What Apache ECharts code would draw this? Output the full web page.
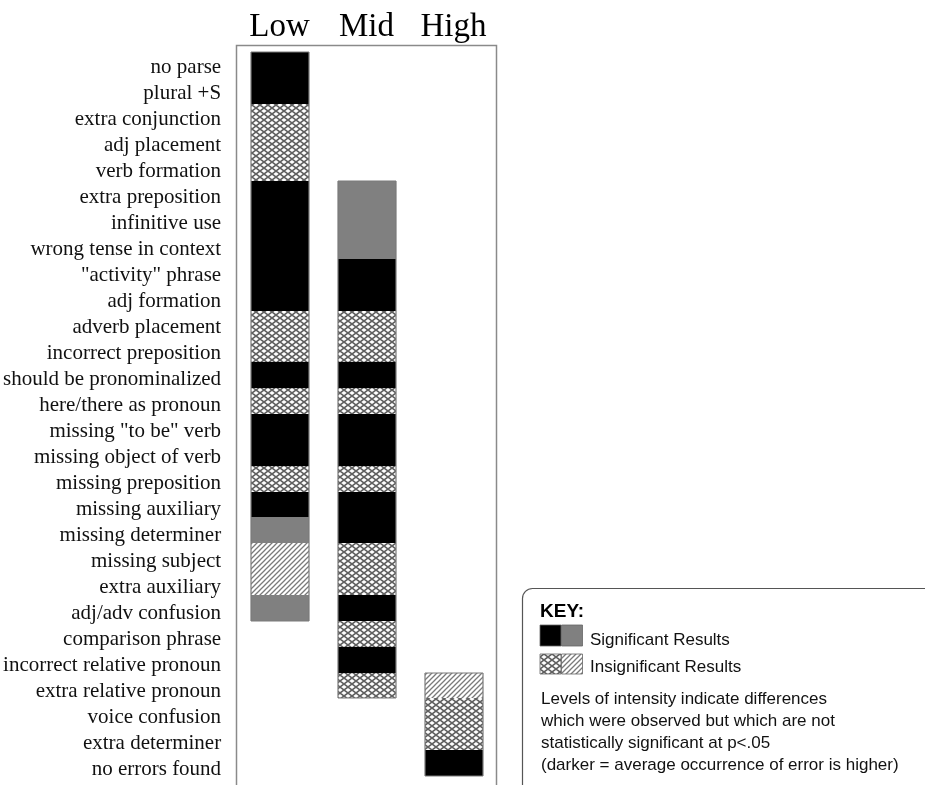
<!DOCTYPE html>
<html><head><meta charset="utf-8">
<script src="https://cdn.jsdelivr.net/npm/echarts@6/dist/echarts.min.js"></script>
<style>html,body{margin:0;padding:0;background:#fff}#c{width:925px;height:785px}</style>
</head><body><div id="c"></div>
<script>
// ---- data ----
const levels = ['Low', 'Mid', 'High'];
const errorTypes = [
  'no parse', 'plural +S', 'extra conjunction', 'adj placement', 'verb formation',
  'extra preposition', 'infinitive use', 'wrong tense in context', '"activity" phrase',
  'adj formation', 'adverb placement', 'incorrect preposition', 'should be pronominalized',
  'here/there as pronoun', 'missing "to be" verb', 'missing object of verb',
  'missing preposition', 'missing auxiliary', 'missing determiner', 'missing subject',
  'extra auxiliary', 'adj/adv confusion', 'comparison phrase', 'incorrect relative pronoun',
  'extra relative pronoun', 'voice confusion', 'extra determiner', 'no errors found'
];
// S = significant (dark), G = significant (lighter), X = insignificant (crosshatch), D = insignificant (diagonal), null = none
const lowCells = ['S','S','X','X','X','S','S','S','S','S','X','X','S','X','S','S','X','S','G','D','D','G',
  null,null,null,null,null,null];
const midCells = [null,null,null,null,null,'G','G','G','S','S','X','X','S','X','S','S','X','S','S','X','X','S','X','S','X',
  null,null,null];
const highCells = [null,null,null,null,null,null,null,null,null,null,null,null,null,null,null,null,null,null,null,null,null,null,null,null,
  'D','X','X','S'];
const cellCodes = ['S', 'G', 'X', 'D'];
const keyTitle = 'KEY:';
const keySig = 'Significant Results';
const keyInsig = 'Insignificant Results';
const keyNote = ['Levels of intensity indicate differences', 'which were observed but which are not',
  'statistically significant at p<.05', '(darker = average occurrence of error is higher)'];

// ---- patterns ----
function crossPattern() {
  const cv = document.createElement('canvas');
  cv.width = 8; cv.height = 6;
  const g = cv.getContext('2d');
  g.fillStyle = '#fff'; g.fillRect(0, 0, 8, 6);
  g.strokeStyle = '#606060'; g.lineWidth = 1.6;
  g.beginPath();
  g.moveTo(-1, -0.75); g.lineTo(9, 6.75);
  g.moveTo(-1, 6.75); g.lineTo(9, -0.75);
  g.stroke();
  return { image: cv, repeat: 'repeat' };
}
function diagPattern() {
  const s = 5;
  const cv = document.createElement('canvas');
  cv.width = s; cv.height = s;
  const g = cv.getContext('2d');
  g.fillStyle = '#fff'; g.fillRect(0, 0, s, s);
  g.strokeStyle = '#7a7a7a'; g.lineWidth = 1.3;
  g.beginPath();
  g.moveTo(-1, s + 1); g.lineTo(s + 1, -1);
  g.moveTo(-1, 1); g.lineTo(1, -1);
  g.moveTo(s - 1, s + 1); g.lineTo(s + 1, s - 1);
  g.stroke();
  return { image: cv, repeat: 'repeat' };
}
const fills = { S: '#000000', G: '#808080', X: crossPattern(), D: diagPattern() };

const cellData = [];
[lowCells, midCells, highCells].forEach((col, ci) => {
  col.forEach((code, ri) => {
    if (code) {
      const top = ri === 0 || !col[ri - 1] ? 1 : 0;
      const bottom = ri === col.length - 1 || !col[ri + 1] ? 1 : 0;
      cellData.push([ci, ri, cellCodes.indexOf(code), top, bottom]);
    }
  });
});

const serif = 'Liberation Serif, Times New Roman, serif';
const sans = 'Liberation Sans, Arial, sans-serif';
const edge = { stroke: '#7a7a7a', lineWidth: 1.2 };

const chart = echarts.init(document.getElementById('c'), null, { renderer: 'canvas' });
chart.setOption({
  animation: false,
  backgroundColor: '#fff',
  grid: [
    { left: 236, right: 428, top: 52, bottom: 9 },
    { left: 236, right: 428, top: 54, bottom: 2 }
  ],
  xAxis: [{
    type: 'category', data: levels, position: 'top', gridIndex: 0,
    axisLine: { show: false }, axisTick: { show: false }, splitLine: { show: false },
    axisLabel: { fontFamily: serif, fontSize: 33, color: '#000', margin: 8 }
  }, {
    type: 'category', data: levels, gridIndex: 1, show: false
  }],
  yAxis: [{
    type: 'category', data: errorTypes, inverse: true, gridIndex: 0,
    axisLine: { show: false }, axisTick: { show: false }, splitLine: { show: false },
    axisLabel: { show: false }
  }, {
    type: 'category', data: errorTypes, inverse: true, gridIndex: 1,
    axisLine: { show: false }, axisTick: { show: false }, splitLine: { show: false },
    axisLabel: { fontFamily: serif, fontSize: 21, color: '#111', margin: 16, interval: 0 }
  }],
  series: [{
    type: 'custom',
    xAxisIndex: 0, yAxisIndex: 0,
    data: cellData,
    encode: { x: 0, y: 1 },
    renderItem: function (params, api) {
      const c = api.coord([api.value(0), api.value(1)]);
      const band = api.size([1, 1]);
      const w = band[0] * 2 / 3, h = band[1];
      const code = cellCodes[api.value(2)];
      const x0 = Math.round(c[0] - w / 2), x1 = Math.round(c[0] + w / 2);
      const y0 = Math.round(c[1] - h / 2), y1 = Math.round(c[1] + h / 2);
      const children = [
        { type: 'rect', shape: { x: x0, y: y0, width: x1 - x0, height: y1 - y0 }, style: { fill: fills[code] } },
        { type: 'line', shape: { x1: x0, y1: y0, x2: x0, y2: y1 }, style: edge },
        { type: 'line', shape: { x1: x1, y1: y0, x2: x1, y2: y1 }, style: edge }
      ];
      if (api.value(3)) children.push({ type: 'line', shape: { x1: x0, y1: y0, x2: x1, y2: y0 }, style: edge });
      if (api.value(4)) children.push({ type: 'line', shape: { x1: x0, y1: y1, x2: x1, y2: y1 }, style: edge });
      return { type: 'group', children: children };
    }
  }],
  graphic: [
    { type: 'rect', z: 10, silent: true,
      shape: { x: 236.5, y: 45.5, width: 260, height: 800 },
      style: { fill: 'none', stroke: '#8a8a8a', lineWidth: 1.5 } },
    { type: 'rect', silent: true,
      shape: { x: 522.5, y: 588.5, width: 460, height: 300, r: 10 },
      style: { fill: '#fff', stroke: '#555', lineWidth: 1.2 } },
    { type: 'text', style: { x: 540, y: 612, text: keyTitle, fontFamily: sans, fontWeight: 'bold', fontSize: 19, fill: '#000', verticalAlign: 'middle' } },
    { type: 'rect', shape: { x: 540, y: 625, width: 21, height: 21 }, style: { fill: fills.S, stroke: '#666', lineWidth: 0.8 } },
    { type: 'rect', shape: { x: 561.5, y: 625, width: 21, height: 21 }, style: { fill: fills.G, stroke: '#666', lineWidth: 0.8 } },
    { type: 'rect', shape: { x: 540, y: 654, width: 21, height: 20 }, style: { fill: fills.X, stroke: '#666', lineWidth: 0.8 } },
    { type: 'rect', shape: { x: 561.5, y: 654, width: 21, height: 20 }, style: { fill: fills.D, stroke: '#666', lineWidth: 0.8 } },
    { type: 'text', style: { x: 590, y: 640, text: keySig, fontFamily: sans, fontSize: 17, fill: '#111', verticalAlign: 'middle' } },
    { type: 'text', style: { x: 590, y: 667, text: keyInsig, fontFamily: sans, fontSize: 17, fill: '#111', verticalAlign: 'middle' } },
    { type: 'text', style: { x: 541, y: 688, text: keyNote.join('\n'), fontFamily: sans, fontSize: 17, lineHeight: 22, fill: '#111', verticalAlign: 'top' } }
  ]
});
</script>
</body></html>
